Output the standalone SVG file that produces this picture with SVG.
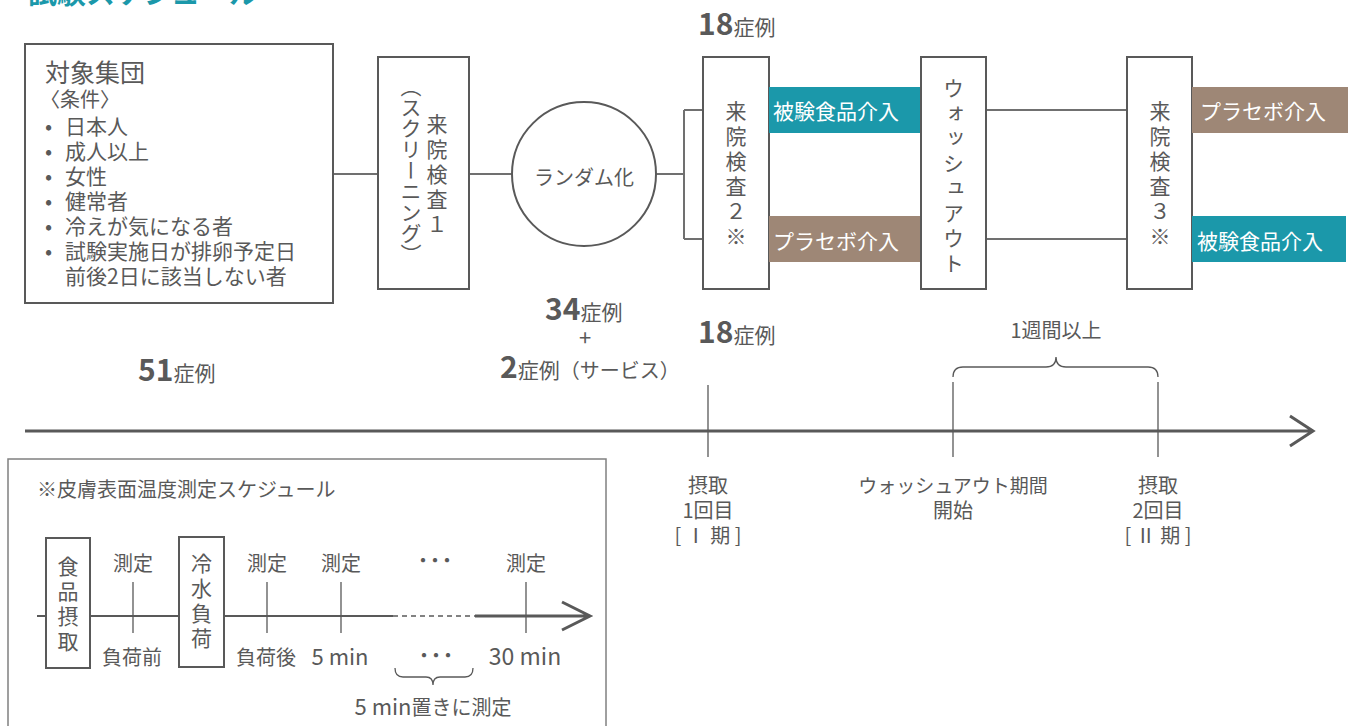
<svg xmlns="http://www.w3.org/2000/svg" width="1351" height="726" viewBox="0 0 1351 726">
<style>
text{font-family:"Noto Sans CJK JP","Noto Sans",sans-serif;fill:#595959;}
.box{fill:#fff;stroke:#595959;stroke-width:2;}
.ln{fill:none;stroke:#707070;stroke-width:2;}
.tk{fill:none;stroke:#595959;stroke-width:1.3;}
.t20{font-size:20px;}
.t21{font-size:21px;}
.c{text-anchor:middle;}
.v{writing-mode:vertical-rl;font-size:21px;letter-spacing:4px;}
.num{font-weight:bold;font-size:30px;}
.w{fill:#fff;font-size:21px;}
.teal{fill:#1b98aa;}
.brown{fill:#9e8776;}
</style>
<rect width="1351" height="726" fill="#fff"/>
<text x="28" y="4" style="font-size:29px;font-weight:bold;fill:#1b98aa">試験スケジュール</text>

<g id="connectors">
<path class="ln" d="M333,174H378M469,174H512M656,174H684M684,110V239M684,110H703M684,239H703M986,110H1127M986,239H1127"/>
</g>

<g id="population">
<rect class="box" x="25" y="44" width="308" height="259"/>
<text x="45" y="82" style="font-size:25px">対象集団</text>
<text x="40" y="107" class="t20">〈条件〉</text>
<g class="t21">
<text y="134"><tspan x="45">•</tspan><tspan x="65">日本人</tspan></text>
<text y="159"><tspan x="45">•</tspan><tspan x="65">成人以上</tspan></text>
<text y="184"><tspan x="45">•</tspan><tspan x="65">女性</tspan></text>
<text y="209"><tspan x="45">•</tspan><tspan x="65">健常者</tspan></text>
<text y="234"><tspan x="45">•</tspan><tspan x="65">冷えが気になる者</tspan></text>
<text y="259"><tspan x="45">•</tspan><tspan x="65">試験実施日が排卵予定日</tspan></text>
<text x="65" y="284">前後2日に該当しない者</text>
</g>
</g>

<g id="screening">
<rect class="box" x="378" y="57" width="91" height="232"/>
<text class="v" x="437" y="114">来院検査１</text>
<text class="v" x="411" y="76" style="letter-spacing:0">（スクリーニング）</text>
</g>

<g id="randomization">
<circle class="box" cx="584" cy="174" r="72"/>
<text class="t20 c" x="584" y="185">ランダム化</text>
</g>

<g id="visit2">
<rect class="box" x="703" y="57" width="66" height="232"/>
<text class="v" x="736" y="101">来院検査２※</text>
</g>

<g id="arm1-test">
<rect class="teal" x="769" y="87" width="152" height="46"/>
<text class="w" x="773" y="119">被験食品介入</text>
</g>
<g id="arm1-placebo">
<rect class="brown" x="769" y="216" width="152" height="46"/>
<text class="w" x="773" y="249">プラセボ介入</text>
</g>

<g id="washout">
<rect class="box" x="921" y="57" width="65" height="232"/>
<text class="v" x="953.5" y="78">ウォッシュアウト</text>
</g>

<g id="visit3">
<rect class="box" x="1127" y="57" width="65" height="232"/>
<text class="v" x="1160" y="101">来院検査３※</text>
</g>

<g id="arm2-placebo">
<rect class="brown" x="1192" y="87" width="156" height="46"/>
<text class="w" x="1200" y="119">プラセボ介入</text>
</g>
<g id="arm2-test">
<rect class="teal" x="1192" y="216" width="154" height="46"/>
<text class="w" x="1197" y="249">被験食品介入</text>
</g>

<g id="counts">
<text x="698" y="35" style="font-size:21px"><tspan class="num">18</tspan>症例</text>
<text x="545" y="320" style="font-size:21px"><tspan class="num">34</tspan>症例</text>
<text x="585" y="346" class="c" style="font-size:22px">+</text>
<text x="500" y="378" style="font-size:20px"><tspan class="num">2</tspan><tspan style="font-size:21px">症例</tspan>（サービス）</text>
<text x="698" y="343" style="font-size:21px"><tspan class="num">18</tspan>症例</text>
<text x="138" y="381" style="font-size:21px"><tspan class="num">51</tspan>症例</text>
</g>

<g id="timeline">
<path d="M25,431H1311M1290,416L1313,431L1290,446" fill="none" stroke="#595959" stroke-width="3"/>
<path class="tk" d="M708,385V457M953,382V457M1158,382V457"/>
<path class="tk" d="M953,377Q953,367 963,367H1046Q1056,367 1056,357Q1056,367 1066,367H1148Q1158,367 1158,377"/>
<text class="t20 c" x="1056" y="338">1週間以上</text>
<text class="t20 c" x="708" y="493">摂取</text>
<text class="t20 c" x="708" y="518">1回目</text>
<text class="t20 c" x="708" y="543">[ Ⅰ 期 ]</text>
<text class="c" x="953" y="493" style="font-size:19px">ウォッシュアウト期間</text>
<text class="t20 c" x="953" y="518">開始</text>
<text class="t20 c" x="1158" y="493">摂取</text>
<text class="t20 c" x="1158" y="518">2回目</text>
<text class="t20 c" x="1158" y="543">[ Ⅱ 期 ]</text>
</g>

<g id="schedule">
<rect x="8" y="459" width="598" height="290" fill="#fff" stroke="#808080" stroke-width="1.5"/>
<text class="t20" x="37" y="497">※皮膚表面温度測定スケジュール</text>
<path d="M37,616H393" stroke="#595959" stroke-width="2" fill="none"/>
<path d="M393,616H475" stroke="#595959" stroke-width="1.5" stroke-dasharray="5 4" fill="none"/>
<path d="M475,616H588M562,602L590,616L562,630" stroke="#595959" stroke-width="3" fill="none"/>
<path class="tk" d="M133,582V633M267,582V633M341,582V633M526,582V633"/>
<path class="tk" d="M395,668Q395,677 403,677H426Q433,677 433,685Q433,677 440,677H465Q473,677 473,668"/>
<g id="food">
<rect class="box" x="46" y="538" width="44" height="130"/>
<text class="v" x="68" y="556">食品摂取</text>
</g>
<g id="cold">
<rect class="box" x="179" y="537" width="45" height="130"/>
<text class="v" x="201.5" y="553">冷水負荷</text>
</g>
<text class="t20 c" x="133" y="571">測定</text>
<text class="t20 c" x="267" y="571">測定</text>
<text class="t20 c" x="341" y="571">測定</text>
<text class="t20 c" x="431" y="568" style="letter-spacing:-8px">・・・</text>
<text class="t20 c" x="526" y="571">測定</text>
<text class="t20 c" x="132" y="665">負荷前</text>
<text class="t20 c" x="266" y="665">負荷後</text>
<text class="c" x="340" y="665" style="font-size:22px">5 min</text>
<text class="t20 c" x="432" y="663" style="letter-spacing:-8px">・・・</text>
<text class="c" x="525" y="665" style="font-size:23px">30 min</text>
<text class="c" x="433" y="715" style="font-size:20px"><tspan style="font-size:22px">5 min</tspan>置きに測定</text>
</g>
</svg>
